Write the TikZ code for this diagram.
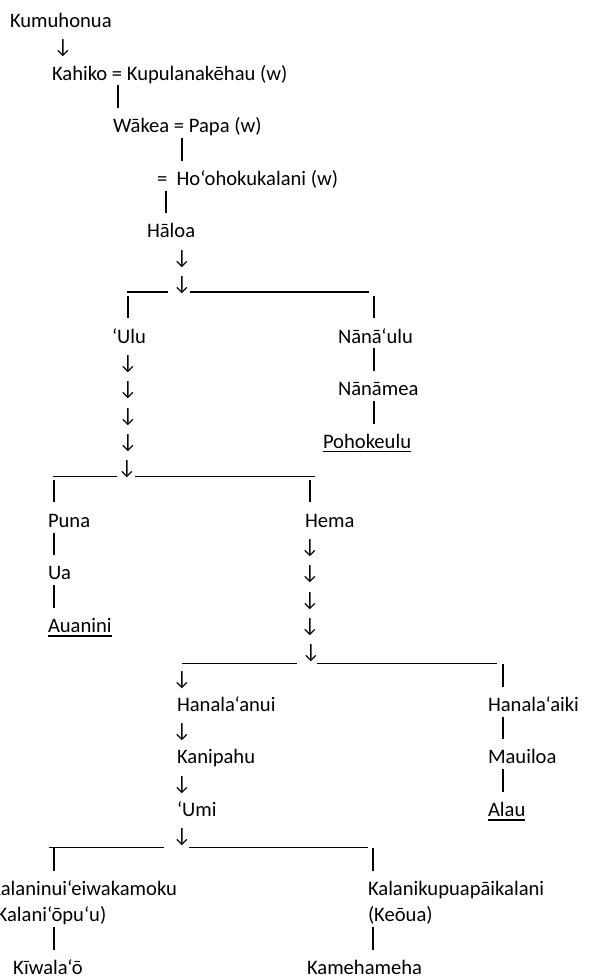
\documentclass[tikz,border=0pt]{standalone}
\usepackage{fontspec}
\setmainfont{Carlito}
\newcommand\ly[1]{(27.5+26.3*#1)}
\tikzset{
  lbl/.style={anchor=base west, inner sep=0pt, outer sep=0pt, font=\fontsize{20.6}{24}\selectfont},
  darr/.style={anchor=base, inner sep=0pt, outer sep=0pt, font=\fontsize{20.6}{24}\selectfont},
  vbar/.style={line width=2pt},
  hbar/.style={line width=1.2pt},
  uline/.style={line width=1.3pt},
}
% vertical bar: name, x, line
\newcommand\vb[3]{%
  \coordinate (#1t) at (#2,{\ly{#3}-21});
  \coordinate (#1b) at (#2,{\ly{#3}+1.5});
  \draw[vbar] (#1t) -- (#1b);}
% horizontal rule: name, x1, x2, line, offset
\newcommand\hb[5]{%
  \coordinate (#1l) at (#2,{\ly{#4}+#5});
  \coordinate (#1r) at (#3,{\ly{#4}+#5});
  \draw[hbar] (#1l) -- (#1r);}
% down arrow glyph: name, x, line
\newcommand\da[3]{\node[darr] (#1) at (#2,{\ly{#3}}) {↓};}
% underline a node
\newcommand\ul[1]{\draw[uline] ([yshift=-3.5pt]#1.base west) -- ([yshift=-3.5pt]#1.base east);}
\begin{document}
\begin{tikzpicture}[x=1pt,y=-1pt]
\path[fill=white,use as bounding box] (0,0) rectangle (593,977);

\node[lbl] (kumu) at (10,{\ly{0}}) {Kumuhonua};
\da{a1}{63}{1}
\node[lbl] (kahiko) at (52,{\ly{2}}) {Kahiko = Kupulanakēhau (w)};
\vb{b3}{118}{3}
\node[lbl] (wakea) at (113,{\ly{4}}) {Wākea = Papa (w)};
\vb{b5}{182}{5}
\node[lbl] (hoo) at (157,{\ly{6}}) {=\ \ Ho‘ohokukalani (w)};
\vb{b7}{166}{7}
\node[lbl] (haloa) at (147,{\ly{8}}) {Hāloa};
\da{a9}{182}{9}
\da{a10}{182}{10}
\hb{h10a}{127}{168}{10}{1.5}
\hb{h10b}{190}{369}{10}{1.5}
\vb{b11a}{128}{11}
\vb{b11b}{374}{11}

\node[lbl] (ulu) at (112,{\ly{12}}) {‘Ulu};
\node[lbl] (nanaulu) at (338,{\ly{12}}) {Nānā‘ulu};
\da{a13}{128}{13}
\vb{b13}{374}{13}
\da{a14}{128}{14}
\node[lbl] (nanamea) at (338,{\ly{14}}) {Nānāmea};
\da{a15}{128}{15}
\vb{b15}{374}{15}
\da{a16}{128}{16}
\node[lbl] (poho) at (323,{\ly{16}}) {Pohokeulu};
\ul{poho}
\da{a17}{127}{17}
\hb{h17a}{53}{117}{17}{2}
\hb{h17b}{135}{315}{17}{2}
\vb{b18a}{54}{18}
\vb{b18b}{310}{18}

\node[lbl] (puna) at (48,{\ly{19}}) {Puna};
\node[lbl] (hema) at (305,{\ly{19}}) {Hema};
\vb{b20}{54}{20}
\da{a20}{310}{20}
\node[lbl] (ua) at (48,{\ly{21}}) {Ua};
\da{a21}{310}{21}
\vb{b22}{54}{22}
\da{a22}{310}{22}
\node[lbl] (auanini) at (48,{\ly{23}}) {Auanini};
\ul{auanini}
\da{a23}{310}{23}
\da{a24}{311}{24}
\hb{h24a}{182}{297}{24}{4.5}
\hb{h24b}{317}{497}{24}{4.5}
\da{a25}{182}{25}
\vb{b25}{503}{25}

\node[lbl] (hanalaanui) at (177,{\ly{26}}) {Hanala‘anui};
\node[lbl] (hanalaaiki) at (488,{\ly{26}}) {Hanala‘aiki};
\da{a27}{182}{27}
\vb{b27}{503}{27}
\node[lbl] (kanipahu) at (177,{\ly{28}}) {Kanipahu};
\node[lbl] (mauiloa) at (488,{\ly{28}}) {Mauiloa};
\da{a29}{182}{29}
\vb{b29}{503}{29}
\node[lbl] (umi) at (177,{\ly{30}}) {‘Umi};
\node[lbl] (alau) at (488,{\ly{30}}) {Alau};
\ul{alau}
\da{a31}{182}{31}
\hb{h31a}{49}{164}{31}{4.5}
\hb{h31b}{189}{368}{31}{4.5}
\vb{b32a}{54}{32}
\vb{b32b}{373}{32}

\node[lbl] (kalaninui) at (-9.5,{\ly{33}}) {Kalaninui‘eiwakamoku};
\node[lbl] (kalanikupu) at (368,{\ly{33}}) {Kalanikupuapāikalani};
\node[lbl] (kalaniopuu) at (-9.5,{\ly{34}}) {(Kalani‘ōpu‘u)};
\node[lbl] (keoua) at (368,{\ly{34}}) {(Keōua)};
\vb{b35a}{54}{35}
\vb{b35b}{373}{35}
\node[lbl] (kiwalao) at (13,{\ly{36}}) {Kīwala‘ō};
\node[lbl] (kameha) at (307,{\ly{36}}) {Kamehameha};
\end{tikzpicture}
\end{document}
